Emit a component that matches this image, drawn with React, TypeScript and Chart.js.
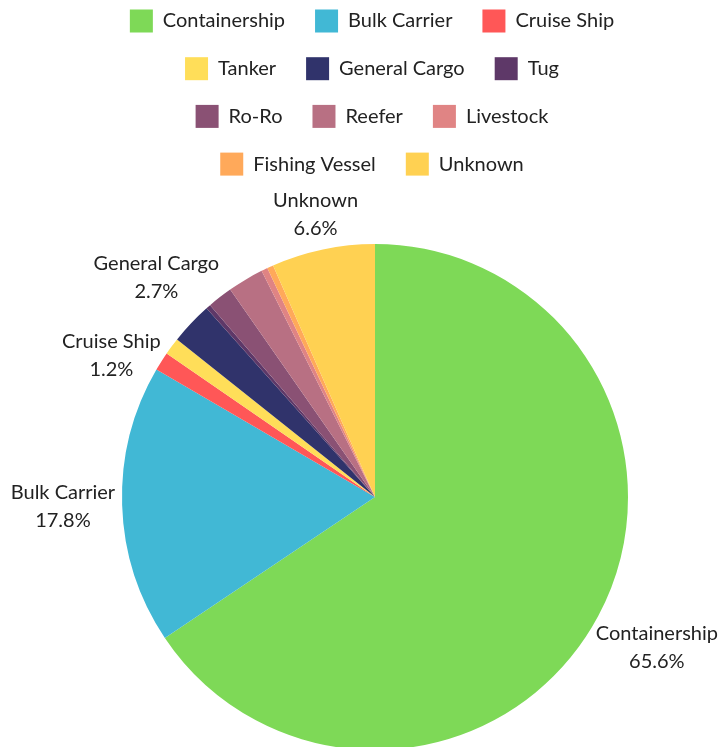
import React, { useEffect, useRef } from 'react';
import { Chart, registerables } from 'chart.js';

Chart.register(...registerables);

const categories = [
  'Containership',
  'Bulk Carrier',
  'Cruise Ship',
  'Tanker',
  'General Cargo',
  'Tug',
  'Ro-Ro',
  'Reefer',
  'Livestock',
  'Fishing Vessel',
  'Unknown',
];
const shares = [65.6, 17.8, 1.2, 1.1, 2.7, 0.3, 1.6, 2.3, 0.4, 0.4, 6.6];
const colors = [
  '#7ED957',
  '#41B8D5',
  '#FF5757',
  '#FFDE59',
  '#30336B',
  '#5E3868',
  '#8A5174',
  '#B87083',
  '#E08484',
  '#FFA95A',
  '#FFD152',
];
const labeledCategories = ['Containership', 'Bulk Carrier', 'Cruise Ship', 'General Cargo', 'Unknown'];
const legendPerRow = 3;

const FONT = 'Lato, "Noto Sans", sans-serif';
const FONT_SIZE = 20;
const TEXT_COLOR = '#222';

const rowLegendPlugin = {
  id: 'rowLegend',
  afterDraw(chart: any) {
    const ctx = chart.ctx;
    ctx.save();
    ctx.font = `${FONT_SIZE}px ${FONT}`;
    ctx.textBaseline = 'middle';
    ctx.textAlign = 'left';
    const box = 23;
    const gapText = 10;
    const gapItem = 30;
    const rowH = 47.7;
    const firstY = 21;
    const cx = (chart.chartArea.left + chart.chartArea.right) / 2 - 3;
    for (let r = 0; r * legendPerRow < categories.length; r++) {
      const items = categories
        .slice(r * legendPerRow, (r + 1) * legendPerRow)
        .map((t, k) => ({ t, i: r * legendPerRow + k, w: ctx.measureText(t).width }));
      const total =
        items.reduce((s, it) => s + box + gapText + it.w, 0) + gapItem * (items.length - 1);
      let x = cx - total / 2;
      const y = firstY + r * rowH;
      for (const it of items) {
        ctx.fillStyle = colors[it.i];
        ctx.fillRect(x, y - box / 2, box, box);
        ctx.fillStyle = TEXT_COLOR;
        ctx.fillText(it.t, x + box + gapText, y);
        x += box + gapText + it.w + gapItem;
      }
    }
    ctx.restore();
  },
};

const sliceLabelPlugin = {
  id: 'sliceLabels',
  afterDatasetsDraw(chart: any) {
    const meta = chart.getDatasetMeta(0);
    const ctx = chart.ctx;
    ctx.save();
    ctx.font = `${FONT_SIZE}px ${FONT}`;
    const lineH = 28;
    const gap = 7;
    const minGap = 78;
    const total = shares.reduce((a, b) => a + b, 0);
    const items: any[] = [];
    meta.data.forEach((arc: any, i: number) => {
      if (!labeledCategories.includes(categories[i])) return;
      const { x, y, startAngle, endAngle, outerRadius } = arc.getProps(
        ['x', 'y', 'startAngle', 'endAngle', 'outerRadius'],
        true
      );
      const mid = (startAngle + endAngle) / 2;
      const c = Math.cos(mid);
      const s = Math.sin(mid);
      const lines = [categories[i], ((shares[i] / total) * 100).toFixed(1) + '%'];
      const w = Math.max(...lines.map((l) => ctx.measureText(l).width));
      const h = lineH * lines.length;
      const ex = Math.abs(c) > 1e-6 ? w / 2 / Math.abs(c) : Infinity;
      const ey = Math.abs(s) > 1e-6 ? h / 2 / Math.abs(s) : Infinity;
      const d = outerRadius + gap + Math.min(ex, ey);
      items.push({ lines, w, x: x + d * c, y: y + d * s, left: c < 0 });
    });
    const overlapX = (a: any, b: any) =>
      Math.abs(a.x - b.x) < (a.w + b.w) / 2;
    [true, false].forEach((side) => {
      const list = items.filter((it) => it.left === side).sort((a, b) => a.y - b.y);
      for (let iter = 0; iter < 30; iter++) {
        let moved = false;
        for (let k = 1; k < list.length; k++) {
          const diff = list[k].y - list[k - 1].y;
          if (diff < minGap - 0.01 && overlapX(list[k], list[k - 1])) {
            const push = minGap - diff;
            list[k].y += (push * 2) / 3;
            list[k - 1].y -= push / 3;
            moved = true;
          }
        }
        if (!moved) break;
      }
    });
    ctx.fillStyle = TEXT_COLOR;
    ctx.textAlign = 'center';
    ctx.textBaseline = 'middle';
    items.forEach((it) =>
      it.lines.forEach((l: string, j: number) =>
        ctx.fillText(l, it.x, it.y + (j - (it.lines.length - 1) / 2) * lineH)
      )
    );
    ctx.restore();
  },
};

export default function App() {
  const ref = useRef<HTMLCanvasElement | null>(null);
  useEffect(() => {
    if (!ref.current) return;
    const chart = new Chart(ref.current, {
      type: 'pie',
      data: {
        labels: categories,
        datasets: [
          {
            data: shares,
            backgroundColor: colors,
            borderWidth: 0,
            hoverOffset: 0,
          },
        ],
      },
      options: {
        responsive: true,
        maintainAspectRatio: false,
        animation: false,
        layout: { padding: { top: 244, bottom: 10, left: 25, right: 0 } },
        plugins: {
          legend: { display: false },
          tooltip: { enabled: false },
        },
      },
      plugins: [rowLegendPlugin, sliceLabelPlugin],
    } as any);
    return () => chart.destroy();
  }, []);
  return (
    <div
      style={{
        position: 'fixed',
        left: 0,
        top: 0,
        width: 725,
        height: 760,
        overflow: 'hidden',
        background: '#fff',
      }}
    >
      <canvas ref={ref} />
    </div>
  );
}
